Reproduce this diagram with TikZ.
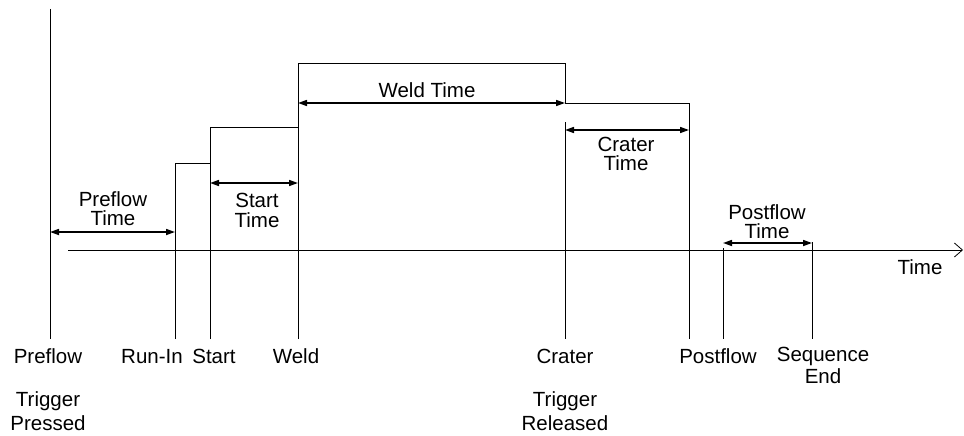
\documentclass[tikz,border=0pt]{standalone}
\usepackage{fontspec}
\setmainfont{Liberation Sans}
\usetikzlibrary{arrows.meta, positioning}

\begin{document}
\begin{tikzpicture}[x=1pt, y=-1pt,
    label node/.style={align=center, font=\fontsize{20.5}{18.5}\selectfont, inner sep=0pt, anchor=base},
    span arrow/.style={line width=1.6pt, {Triangle[length=9pt,width=6pt]}-{Triangle[length=9pt,width=6pt]}},
    mark line/.style={line width=0.8pt}]
    \useasboundingbox (0,0) rectangle (964,436);

    % event marks
    \coordinate (preflow top) at (50,9);
    \coordinate (preflow end) at (50,339);
    \coordinate (runin end) at (175,339);
    \coordinate (start end) at (210,339);
    \coordinate (weld end) at (298,339);
    \coordinate (crater top) at (565,122);
    \coordinate (crater end) at (565,339);
    \coordinate (postflow end) at (689,339);
    \coordinate (gasoff top) at (723,248);
    \coordinate (gasoff end) at (723,339);
    \coordinate (seqend top) at (812,242);
    \coordinate (seqend end) at (812,339);

    \draw[mark line] (preflow top) -- (preflow end);
    \draw[mark line] (runin end) |- (210,163) |- (298,127) |- (565,63) -- (565,103) -| (postflow end);
    \draw[mark line] (start end) -- (210,163);
    \draw[mark line] (weld end) -- (298,127);
    \draw[mark line] (crater top) -- (crater end);
    \draw[mark line] (gasoff top) -- (gasoff end);
    \draw[mark line] (seqend top) -- (seqend end);

    % time axis
    \coordinate (axis start) at (68,250);
    \coordinate (axis end) at (963,250);
    \draw[mark line, -{Straight Barb[length=8pt,width=14pt]}] (axis start) -- (axis end);

    % spans
    \draw[span arrow] (50,232) -- (175,232);
    \draw[span arrow] (210,183) -- (298,183);
    \draw[span arrow] (298,103) -- (565,103);
    \draw[span arrow] (565,130) -- (689,130);
    \draw[span arrow] (723,243) -- (812,243);

    \node[label node] (preflowtime) at (113,225) {Preflow\\Time};
    \node[label node] (starttime) at (257,227) {Start\\[1.5pt]Time};
    \node[label node] (weldtime) at (427,98) {Weld Time};
    \node[label node] (cratertime) at (626,170) {Crater\\Time};
    \node[label node] (postflowtime) at (767,238) {Postflow\\Time};
    \node[label node] (timelabel) at (920,274) {Time};

    \node[label node] (preflow) at (48,363) {Preflow};
    \node[label node] (runin) at (152,363) {Run-In};
    \node[label node] (start) at (214,363) {Start};
    \node[label node] (weld) at (296,363) {Weld};
    \node[label node] (crater) at (565,363) {Crater};
    \node[label node] (postflow) at (718,363) {Postflow};
    \node[label node] (seqend) at (823,383) {Sequence\\[1.5pt]End};
    \node[label node] (pressed) at (48,430) {Trigger\\[3.5pt]Pressed};
    \node[label node] (released) at (565,430) {Trigger\\[3.5pt]Released};
\end{tikzpicture}
\end{document}
